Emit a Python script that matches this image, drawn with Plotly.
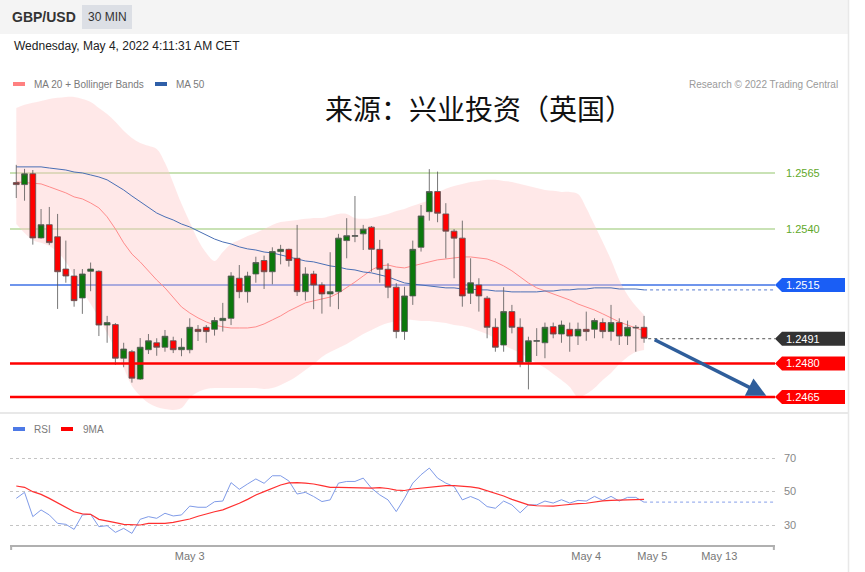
"""GBP/USD 30 min chart with Bollinger bands, MA 50 and RSI panel."""

import plotly.graph_objects as go

# page geometry (pixels)
W, H = 865, 572
M_L, M_R, M_T, M_B = 10, 90, 60, 27


def px(x):
    return (x - M_L) / (W - M_L - M_R)


def py(y):
    return (H - M_B - y) / (H - M_T - M_B)


# ---- data -------------------------------------------------------------
open_ = [1.25607, 1.25598, 1.25646, 1.25360, 1.25419, 1.25365, 1.25221, 1.25190, 1.25092, 1.25211,
         1.25211, 1.24971, 1.24973, 1.24823, 1.24852, 1.24730, 1.24861, 1.24892, 1.24872, 1.24901,
         1.24861, 1.24861, 1.24952, 1.24961, 1.24952, 1.24991, 1.25001, 1.25180, 1.25120, 1.25199,
         1.25259, 1.25209, 1.25299, 1.25309, 1.25269, 1.25120, 1.25199, 1.25150, 1.25110, 1.25120,
         1.25348, 1.25367, 1.25378, 1.25408, 1.25309, 1.25220, 1.25140, 1.24942, 1.25101, 1.25318,
         1.25477, 1.25567, 1.25467, 1.25390, 1.25359, 1.25113, 1.25150, 1.25091, 1.24961, 1.24882,
         1.25031, 1.24961, 1.24806, 1.24899, 1.24892, 1.24964, 1.24931, 1.24952, 1.24922, 1.24952,
         1.24952, 1.24982, 1.24942, 1.24982, 1.24922, 1.24961, 1.24961]
high = [1.25686, 1.25668, 1.25663, 1.25489, 1.25498, 1.25467, 1.25348, 1.25221, 1.25221, 1.25250,
        1.25215, 1.25012, 1.24980, 1.24892, 1.24860, 1.24913, 1.24931, 1.24912, 1.24949, 1.24919,
        1.24912, 1.25001, 1.24971, 1.24971, 1.25006, 1.25070, 1.25207, 1.25239, 1.25209, 1.25276,
        1.25281, 1.25318, 1.25329, 1.25312, 1.25418, 1.25229, 1.25213, 1.25162, 1.25296, 1.25378,
        1.25448, 1.25547, 1.25418, 1.25413, 1.25351, 1.25247, 1.25158, 1.25142, 1.25348, 1.25507,
        1.25667, 1.25656, 1.25515, 1.25399, 1.25437, 1.25269, 1.25180, 1.25101, 1.25001, 1.25140,
        1.25061, 1.25001, 1.24919, 1.24957, 1.24982, 1.24982, 1.24991, 1.24982, 1.24982, 1.25031,
        1.25001, 1.25001, 1.25061, 1.25001, 1.24991, 1.24971, 1.25012]
low = [1.25538, 1.25526, 1.25330, 1.25357, 1.25329, 1.25043, 1.25160, 1.25053, 1.25021, 1.25122,
       1.24922, 1.24892, 1.24793, 1.24783, 1.24714, 1.24726, 1.24842, 1.24834, 1.24852, 1.24846,
       1.24832, 1.24845, 1.24900, 1.24892, 1.24924, 1.24942, 1.24971, 1.25091, 1.25071, 1.25160,
       1.25132, 1.25153, 1.25242, 1.25232, 1.25101, 1.25080, 1.25042, 1.25022, 1.25053, 1.25042,
       1.25269, 1.25341, 1.25306, 1.25209, 1.25160, 1.25091, 1.24912, 1.24905, 1.25061, 1.25299,
       1.25437, 1.25430, 1.25269, 1.25180, 1.25053, 1.25065, 1.25031, 1.24912, 1.24852, 1.24852,
       1.24934, 1.24783, 1.24684, 1.24833, 1.24823, 1.24912, 1.24892, 1.24852, 1.24882, 1.24901,
       1.24912, 1.24912, 1.24901, 1.24882, 1.24882, 1.24852, 1.24892]
close = [1.25598, 1.25646, 1.25360, 1.25419, 1.25339, 1.25209, 1.25190, 1.25080, 1.25199, 1.25221,
         1.24971, 1.24982, 1.24823, 1.24864, 1.24734, 1.24872, 1.24901, 1.24872, 1.24921, 1.24861,
         1.24872, 1.24961, 1.24942, 1.24942, 1.24991, 1.25001, 1.25190, 1.25120, 1.25190, 1.25250,
         1.25209, 1.25299, 1.25309, 1.25259, 1.25120, 1.25199, 1.25150, 1.25110, 1.25120, 1.25359,
         1.25370, 1.25370, 1.25399, 1.25309, 1.25220, 1.25140, 1.24942, 1.25101, 1.25309, 1.25458,
         1.25567, 1.25470, 1.25390, 1.25359, 1.25101, 1.25160, 1.25101, 1.24961, 1.24872, 1.25031,
         1.24961, 1.24803, 1.24901, 1.24901, 1.24961, 1.24931, 1.24971, 1.24922, 1.24952, 1.24942,
         1.24991, 1.24942, 1.24982, 1.24922, 1.24961, 1.24959, 1.24912]

ma20 = [1.25610, 1.25608, 1.25605, 1.25601, 1.25588, 1.25574, 1.25561, 1.25543, 1.25534, 1.25516,
        1.25494, 1.25454, 1.25400, 1.25338, 1.25288, 1.25253, 1.25213, 1.25172, 1.25137, 1.25092,
        1.25052, 1.25025, 1.25003, 1.24985, 1.24971, 1.24963, 1.24958, 1.24958, 1.24958, 1.24963,
        1.24976, 1.24994, 1.25012, 1.25034, 1.25052, 1.25070, 1.25079, 1.25088, 1.25096, 1.25114,
        1.25137, 1.25163, 1.25190, 1.25217, 1.25235, 1.25239, 1.25230, 1.25226, 1.25235, 1.25244,
        1.25253, 1.25262, 1.25266, 1.25271, 1.25275, 1.25275, 1.25271, 1.25266, 1.25253, 1.25235,
        1.25213, 1.25186, 1.25159, 1.25137, 1.25123, 1.25110, 1.25096, 1.25083, 1.25065, 1.25052,
        1.25038, 1.25021, 1.25003, 1.24985, 1.24971, 1.24958, 1.24945]
bb_upper = [1.25940, 1.25954, 1.25963, 1.25971, 1.25980, 1.25985, 1.25989, 1.25989, 1.25980, 1.25967,
            1.25940, 1.25913, 1.25878, 1.25838, 1.25806, 1.25784, 1.25771, 1.25757, 1.25695, 1.25605,
            1.25512, 1.25431, 1.25351, 1.25293, 1.25257, 1.25297, 1.25333, 1.25351, 1.25369, 1.25382,
            1.25400, 1.25418, 1.25431, 1.25436, 1.25440, 1.25445, 1.25449, 1.25449, 1.25458, 1.25467,
            1.25467, 1.25449, 1.25445, 1.25449, 1.25458, 1.25467, 1.25480, 1.25489, 1.25503, 1.25516,
            1.25529, 1.25561, 1.25579, 1.25592, 1.25601, 1.25610, 1.25614, 1.25619, 1.25619, 1.25614,
            1.25610, 1.25601, 1.25592, 1.25583, 1.25574, 1.25570, 1.25565, 1.25565, 1.25556, 1.25494,
            1.25418, 1.25342, 1.25262, 1.25172, 1.25105, 1.25056, 1.25016]
bb_lower = [1.25422, 1.25382, 1.25351, 1.25338, 1.25324, 1.25297, 1.25253, 1.25190, 1.25123, 1.25065,
            1.25003, 1.24936, 1.24860, 1.24780, 1.24699, 1.24655, 1.24623, 1.24605, 1.24596, 1.24592,
            1.24601, 1.24646, 1.24672, 1.24686, 1.24690, 1.24690, 1.24690, 1.24690, 1.24690, 1.24690,
            1.24686, 1.24690, 1.24704, 1.24721, 1.24744, 1.24771, 1.24797, 1.24829, 1.24851, 1.24869,
            1.24887, 1.24909, 1.24931, 1.24949, 1.24967, 1.24980, 1.24989, 1.24994, 1.24994, 1.24989,
            1.24989, 1.24985, 1.24980, 1.24971, 1.24967, 1.24958, 1.24945, 1.24931, 1.24909, 1.24882,
            1.24864, 1.24846, 1.24824, 1.24802, 1.24780, 1.24753, 1.24726, 1.24695, 1.24650, 1.24663,
            1.24690, 1.24726, 1.24757, 1.24797, 1.24829, 1.24851, 1.24860]
ma50 = [1.25677, 1.25677, 1.25677, 1.25677, 1.25672, 1.25668, 1.25663, 1.25654, 1.25650, 1.25641,
        1.25632, 1.25619, 1.25596, 1.25574, 1.25547, 1.25521, 1.25494, 1.25471, 1.25454, 1.25440,
        1.25422, 1.25409, 1.25391, 1.25373, 1.25355, 1.25342, 1.25333, 1.25320, 1.25311, 1.25306,
        1.25297, 1.25293, 1.25284, 1.25275, 1.25266, 1.25257, 1.25253, 1.25244, 1.25235, 1.25230,
        1.25221, 1.25217, 1.25208, 1.25204, 1.25195, 1.25186, 1.25172, 1.25159, 1.25154, 1.25150,
        1.25146, 1.25141, 1.25137, 1.25137, 1.25132, 1.25132, 1.25128, 1.25128, 1.25123, 1.25123,
        1.25119, 1.25119, 1.25119, 1.25119, 1.25123, 1.25123, 1.25128, 1.25128, 1.25132, 1.25132,
        1.25137, 1.25137, 1.25137, 1.25132, 1.25132, 1.25132, 1.25128]

rsi = [45.9, 49.5, 35.0, 39.0, 36.0, 31.0, 30.4, 27.4, 36.0, 36.4,
       29.0, 29.6, 25.6, 28.0, 25.0, 33.4, 35.0, 34.0, 37.0, 35.4,
       36.0, 41.3, 40.6, 40.6, 43.9, 44.3, 55.3, 51.3, 54.5, 57.5,
       54.9, 59.4, 59.4, 56.3, 48.5, 49.5, 47.0, 44.0, 45.0, 55.0,
       56.0, 56.0, 58.0, 52.0, 48.0, 45.0, 38.0, 46.0, 55.0, 60.0,
       64.0, 58.0, 55.0, 53.0, 45.0, 47.0, 45.0, 41.0, 40.0, 44.3,
       42.0, 37.3, 42.0, 42.0, 44.3, 43.1, 45.1, 43.1, 44.7, 44.3,
       47.1, 44.7, 47.1, 44.3, 46.5, 46.5, 43.6]
rsi_ma9 = [53.3, 52.5, 49.9, 48.3, 45.9, 43.3, 40.9, 37.9, 36.6, 36.4,
           33.4, 32.6, 31.4, 30.4, 30.0, 30.0, 31.0, 31.0, 31.0, 31.6,
           32.4, 33.6, 35.2, 36.7, 37.9, 39.0, 40.9, 43.0, 45.3, 47.9,
           49.9, 51.9, 53.9, 55.1, 55.3, 55.0, 54.5, 53.5, 52.5, 52.5,
           52.4, 52.0, 51.8, 52.0, 52.3, 51.8, 50.8, 50.6, 51.5, 52.0,
           52.5, 53.0, 53.5, 53.5, 53.2, 52.8, 52.0, 50.5, 49.0, 47.3,
           45.3, 43.5, 42.0, 41.5, 41.3, 41.3, 41.8, 42.5, 42.8, 43.0,
           43.8, 44.4, 44.7, 44.9, 45.2, 45.5, 45.3]

tick_labels = ["May 3", "May 4", "May 5", "May 13"]
tick_pos = [21, 69, 77, 85.1]

resistances = [1.2565, 1.2540]
pivot = 1.2515
last_price = 1.2491
supports = [1.2480, 1.2465]
forecast_x = [77.1, 90.8]
forecast_y = [1.24909, 1.24655]

idx = list(range(len(close)))
x_range = [-0.76, 91.85]
y_range = [1.24583, 1.26154]
rsi_range = [18.06, 92.69]

FONT = "Liberation Sans, Arial, sans-serif"

fig = go.Figure()

# Bollinger bands
fig.add_trace(go.Scatter(x=idx, y=bb_upper, mode="lines", line=dict(width=0, shape="spline"),
                         hoverinfo="skip"))
fig.add_trace(go.Scatter(x=idx, y=bb_lower, mode="lines", line=dict(width=0, shape="spline"),
                         fill="tonexty", fillcolor="rgba(255, 200, 200, 0.42)", hoverinfo="skip"))
fig.add_trace(go.Scatter(x=idx, y=ma20, mode="lines", line=dict(color="#ff8c8c", width=1),
                         hoverinfo="skip"))
fig.add_trace(go.Scatter(x=idx, y=ma50, mode="lines", line=dict(color="#4a6fb5", width=1),
                         hoverinfo="skip"))
# MA 50 and last price projected to the right edge
fig.add_trace(go.Scatter(x=[idx[-1], x_range[1]], y=[ma50[-1], ma50[-1]], mode="lines",
                         line=dict(color="#7b96d8", width=1.2, dash="dot"), hoverinfo="skip"))
fig.add_trace(go.Scatter(x=[idx[-1] + 0.5, x_range[1]], y=[last_price, last_price], mode="lines",
                         line=dict(color="#555555", width=1, dash="dot"), hoverinfo="skip"))

# candles sit on an overlaying axis so they are drawn above the band fill
fig.add_trace(go.Candlestick(
    x=idx, open=open_, high=high, low=low, close=close,
    xaxis="x", yaxis="y3",
    increasing=dict(fillcolor="#0c780c", line=dict(color="#555555", width=0.8)),
    decreasing=dict(fillcolor="#ff0000", line=dict(color="#555555", width=0.8)),
    whiskerwidth=0,
    hoverinfo="skip",
))

# RSI panel
fig.add_trace(go.Scatter(x=idx, y=rsi, mode="lines", xaxis="x2", yaxis="y2",
                         line=dict(color="#7f9be8", width=1), hoverinfo="skip"))
fig.add_trace(go.Scatter(x=[idx[-1], x_range[1]], y=[rsi[-1], rsi[-1]], mode="lines",
                         xaxis="x2", yaxis="y2",
                         line=dict(color="#9fb3ee", width=1.2, dash="dot"), hoverinfo="skip"))
fig.add_trace(go.Scatter(x=idx, y=rsi_ma9, mode="lines", xaxis="x2", yaxis="y2",
                         line=dict(color="#ff3030", width=1.2), hoverinfo="skip"))

shapes = [
    # header band and "30 MIN" box
    dict(type="rect", xref="paper", yref="paper", x0=px(0), x1=px(848), y0=py(34), y1=py(0),
         fillcolor="#f4f4f4", line=dict(width=0), layer="below"),
    dict(type="rect", xref="paper", yref="paper", x0=px(82), x1=px(132), y0=py(29), y1=py(5),
         fillcolor="#dcdfe5", line=dict(width=0), layer="below"),
    # panel separator and right frame
    dict(type="line", xref="paper", yref="paper", x0=px(0), x1=px(848), y0=py(413), y1=py(413),
         line=dict(color="#e8e8e8", width=2)),
    dict(type="line", xref="paper", yref="paper", x0=px(848.5), x1=px(848.5), y0=py(0), y1=py(572),
         line=dict(color="#e8e8e8", width=1.5)),
    # bottom axis end ticks
    dict(type="line", xref="paper", yref="paper", x0=0.0015, x1=0.0015, y0=py(545), y1=py(550),
         line=dict(color="#b0b0b0", width=2)),
    dict(type="line", xref="paper", yref="paper", x0=0.9985, x1=0.9985, y0=py(545), y1=py(550),
         line=dict(color="#b0b0b0", width=2)),
    # legend swatches
    dict(type="rect", xref="paper", yref="paper", x0=px(13), x1=px(25), y0=py(86), y1=py(82),
         fillcolor="#ff8080", line=dict(width=0)),
    dict(type="rect", xref="paper", yref="paper", x0=px(155), x1=px(167), y0=py(86), y1=py(82),
         fillcolor="#2f5fa8", line=dict(width=0)),
    dict(type="rect", xref="paper", yref="paper", x0=px(13), x1=px(25), y0=py(431), y1=py(427),
         fillcolor="#4d79e6", line=dict(width=0)),
    dict(type="rect", xref="paper", yref="paper", x0=px(61), x1=px(73), y0=py(431), y1=py(427),
         fillcolor="#ff0000", line=dict(width=0)),
]

for lvl in resistances:
    shapes.append(dict(type="line", xref="paper", yref="y", x0=0, x1=1, y0=lvl, y1=lvl,
                       line=dict(color="#b7d99c", width=1.5), layer="below"))
shapes.append(dict(type="line", xref="paper", yref="y", x0=0, x1=1, y0=pivot, y1=pivot,
                   line=dict(color="#6f95ec", width=2), layer="below"))
for lvl in supports:
    shapes.append(dict(type="line", xref="paper", yref="y", x0=0, x1=1, y0=lvl, y1=lvl,
                       line=dict(color="#ff0000", width=2.5)))

annotations = [
    dict(text="<b>GBP/USD</b>", x=px(10), y=py(17), xanchor="left", yanchor="middle",
         font=dict(size=14, color="#333333")),
    dict(text="30 MIN", x=px(107), y=py(17), xanchor="center", yanchor="middle",
         font=dict(size=12, color="#333333")),
    dict(text="Wednesday, May 4, 2022 4:11:31 AM CET", x=px(12), y=py(46), xanchor="left",
         yanchor="middle", font=dict(size=12, color="#222222")),
    dict(text="MA 20 + Bollinger Bands", x=px(32), y=py(84), xanchor="left", yanchor="middle",
         font=dict(size=10, color="#7a7a7a")),
    dict(text="MA 50", x=px(174), y=py(84), xanchor="left", yanchor="middle",
         font=dict(size=10, color="#7a7a7a")),
    dict(text="Research © 2022 Trading Central", x=px(840), y=py(84), xanchor="right",
         yanchor="middle", font=dict(size=10, color="#9a9a9a")),
    dict(text="来源：兴业投资（英国）", x=px(479), y=py(108), xanchor="center", yanchor="middle",
         font=dict(size=28, color="#111111", family="Noto Sans CJK SC")),
    dict(text="RSI", x=px(32), y=py(429), xanchor="left", yanchor="middle",
         font=dict(size=10, color="#7a7a7a")),
    dict(text="9MA", x=px(81), y=py(429), xanchor="left", yanchor="middle",
         font=dict(size=10, color="#7a7a7a")),
]
for a in annotations:
    a.update(xref="paper", yref="paper", showarrow=False)

# price level labels on the right
for lvl in resistances:
    annotations.append(dict(text=f"{lvl:.4f}", xref="paper", yref="y", x=px(784), y=lvl,
                            xanchor="left", yanchor="middle", showarrow=False,
                            font=dict(size=11, color="#5fa82a")))

tags = [(pivot, "#1a5ef5"), (last_price, "#333333"), (supports[0], "#ff0000"),
        (supports[1], "#ff0000")]
for lvl, col in tags:
    shapes.append(dict(type="path", xref="paper", yref="y", xsizemode="pixel", ysizemode="pixel",
                       xanchor=1, yanchor=lvl, path="M 0,0 L 7,7 L 70,7 L 70,-7 L 7,-7 Z",
                       fillcolor=col, line=dict(width=0)))
    annotations.append(dict(text=f"{lvl:.4f}", xref="paper", yref="y", x=px(784), y=lvl,
                            xanchor="left", yanchor="middle", showarrow=False,
                            font=dict(size=11, color="white")))

# forecast arrow
annotations.append(dict(x=forecast_x[1], y=forecast_y[1], ax=forecast_x[0], ay=forecast_y[0],
                        xref="x", yref="y", axref="x", ayref="y", text="", showarrow=True,
                        arrowhead=2, arrowsize=1.1, arrowwidth=3.5, arrowcolor="#2f5e9b"))

fig.update_layout(
    width=W, height=H,
    margin=dict(l=M_L, r=M_R, t=M_T, b=M_B),
    paper_bgcolor="white", plot_bgcolor="white",
    showlegend=False,
    boxgap=0.3, boxgroupgap=0,
    font=dict(family=FONT),
    xaxis=dict(domain=[0, 1], range=x_range, anchor="y", showticklabels=False, showgrid=False,
               zeroline=False, rangeslider=dict(visible=False)),
    yaxis=dict(domain=[py(412), 1], range=y_range, visible=False),
    yaxis3=dict(overlaying="y", range=y_range, visible=False),
    xaxis2=dict(domain=[0, 1], range=x_range, anchor="y2", tickvals=tick_pos, ticktext=tick_labels,
                showline=True, linecolor="#b0b0b0", linewidth=2, ticks="", showgrid=False,
                zeroline=False, tickfont=dict(size=11, color="#777777")),
    yaxis2=dict(domain=[0, py(420)], range=rsi_range, anchor="x2", side="right",
                tickvals=[30, 50, 70], showgrid=True, griddash="dot", gridcolor="#c4c4c4",
                zeroline=False, ticks="", ticklabelstandoff=8,
                tickfont=dict(size=11, color="#888888")),
    shapes=shapes,
    annotations=annotations,
)

# the page's default body margin would shift the figure
fig.write_html("out.html", config={"displayModeBar": False},
               post_script="document.body.style.margin = '0px';")
